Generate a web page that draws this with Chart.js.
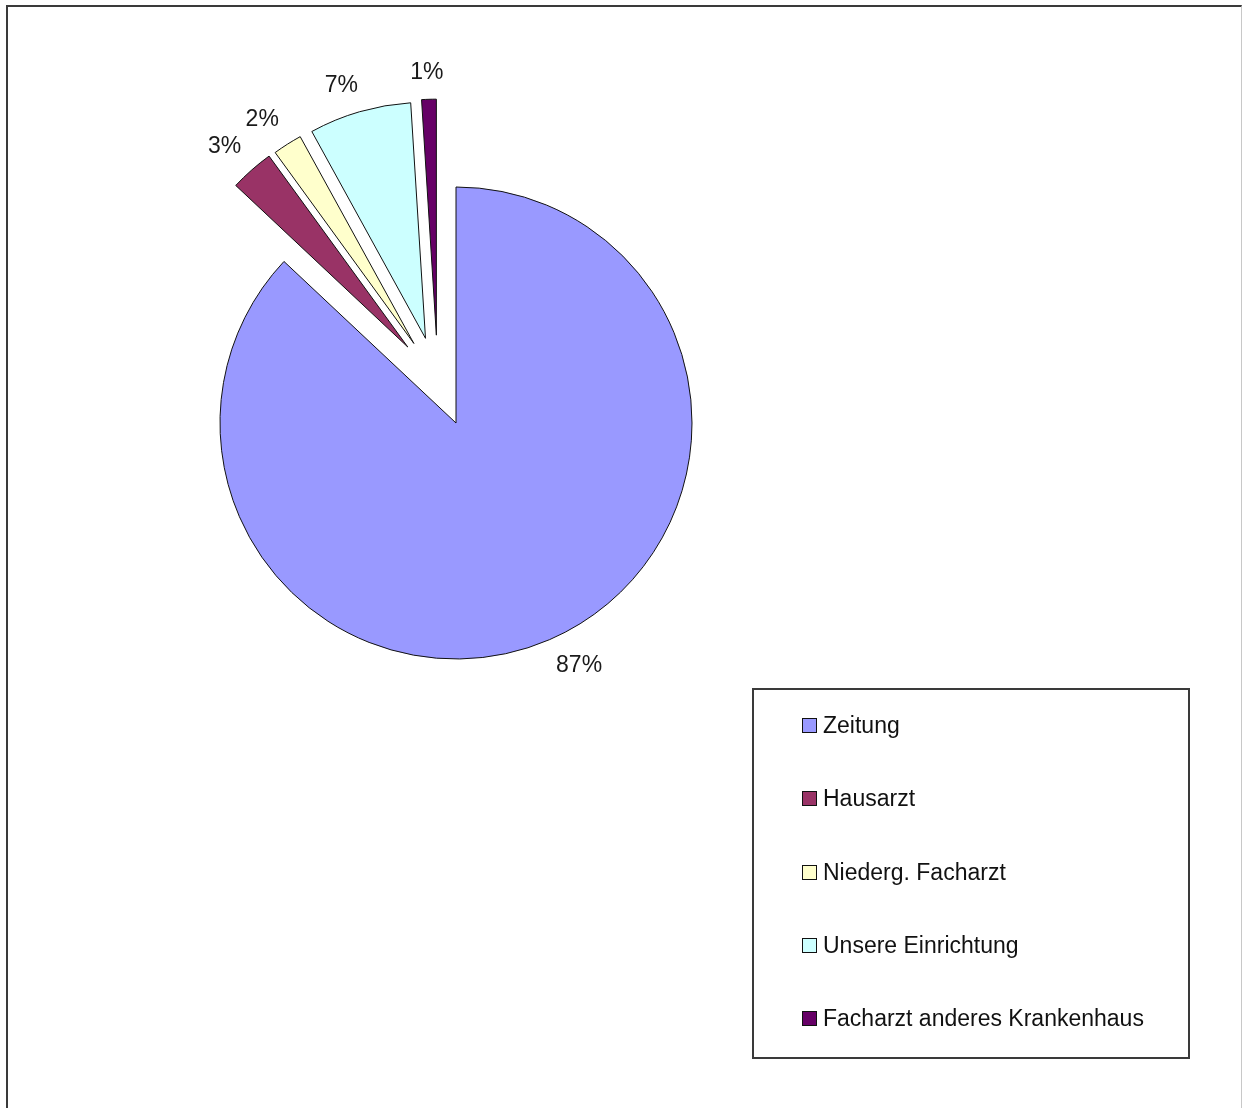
<!DOCTYPE html>
<html>
<head>
<meta charset="utf-8">
<script src="https://cdn.jsdelivr.net/npm/chart.js@4/dist/chart.umd.min.js"></script>
<style>
  html, body { margin: 0; padding: 0; background: #fff; overflow: hidden; }
  #wrap { position: relative; width: 1242px; height: 1108px; overflow: hidden; }
  #frame { position: absolute; left: 6px; top: 5px; width: 1233px; height: 1200px;
           border-top: 2px solid #3a3a3a; border-left: 2px solid #3a3a3a; border-right: 1px solid #c8c8c8; }
  #c { position: absolute; left: 0; top: 0; }
  #legend { position: absolute; left: 752px; top: 688px; width: 438px; height: 371px; box-sizing: border-box;
            border: 2px solid #3a3a3a; background: transparent; }
  .li { position: absolute; left: 48px; height: 23px; display: flex; align-items: center; white-space: nowrap;
        font: 23px "Liberation Sans", Arial, sans-serif; color: #111; }
  .sw { width: 15px; height: 15px; box-sizing: border-box; border: 1px solid #111; margin-right: 6px; }
</style>
</head>
<body>
<div id="wrap">
  <div id="frame"></div>
  <canvas id="c" width="1242" height="1108"></canvas>
  <div id="legend"></div>
</div>
<script>
// ---- data ----
const categories = ['Zeitung', 'Hausarzt', 'Niederg. Facharzt', 'Unsere Einrichtung', 'Facharzt anderes Krankenhaus'];
const shares = [87, 3, 2, 7, 1];
const shareLabels = ['87%', '3%', '2%', '7%', '1%'];

// ---- style ----
const sliceColors = ['#9999FF', '#993366', '#FFFFCC', '#CCFFFF', '#660066'];
const exploded = [false, true, true, true, true];
const EXPLODE = 90;
const LABEL_GAP = 16;
const FONT = '23px "Liberation Sans", Arial, sans-serif';

const explodePlugin = {
  id: 'explode',
  afterDatasetUpdate(chart, args) {
    const arcs = chart.getDatasetMeta(args.index).data;
    const idx = arcs.map((a, i) => i).filter(i => exploded[i]);
    if (!idx.length) return;
    const groupMid = (arcs[idx[0]].startAngle + arcs[idx[idx.length - 1]].endAngle) / 2;
    const ca = chart.chartArea;
    const cx = (ca.left + ca.right) / 2, cy = (ca.top + ca.bottom) / 2;
    idx.forEach(i => {
      const a = arcs[i];
      const m = ((a.startAngle + a.endAngle) / 2 + groupMid) / 2;
      a.x = cx + Math.cos(m) * EXPLODE;
      a.y = cy + Math.sin(m) * EXPLODE;
    });
  }
};

const clamp1 = v => Math.max(-1, Math.min(1, v));

const labelPlugin = {
  id: 'sliceLabels',
  afterDatasetsDraw(chart) {
    const ctx = chart.ctx;
    const arcs = chart.getDatasetMeta(0).data;
    ctx.save();
    ctx.font = FONT;
    ctx.fillStyle = '#1a1a1a';
    ctx.textAlign = 'center';
    ctx.textBaseline = 'middle';
    arcs.forEach((a, i) => {
      const m = (a.startAngle + a.endAngle) / 2;
      const c = Math.cos(m), s = Math.sin(m);
      const txt = shareLabels[i];
      const w = ctx.measureText(txt).width, h = 22;
      const r = a.outerRadius + LABEL_GAP;
      ctx.fillText(txt, a.x + c * r + clamp1(3 * c) * w / 2, a.y + s * r + clamp1(3 * s) * h / 2);
    });
    ctx.restore();
  }
};

new Chart(document.getElementById('c'), {
  type: 'pie',
  data: {
    labels: categories,
    datasets: [{
      data: shares,
      backgroundColor: sliceColors,
      borderColor: '#111',
      borderWidth: 1,
      clip: false
    }]
  },
  options: {
    responsive: false,
    animation: false,
    events: [],
    devicePixelRatio: 1,
    radius: 236,
    layout: { padding: { left: 0, top: 0, right: 330, bottom: 262 } },
    plugins: { legend: { display: false }, tooltip: { enabled: false } }
  },
  plugins: [explodePlugin, labelPlugin]
});

// HTML legend built from the same arrays
const leg = document.getElementById('legend');
categories.forEach((name, i) => {
  const item = document.createElement('div');
  item.className = 'li';
  item.style.top = (24 + i * 73.3) + 'px';
  const sw = document.createElement('span');
  sw.className = 'sw';
  sw.style.background = sliceColors[i];
  const t = document.createElement('span');
  t.textContent = name;
  item.appendChild(sw);
  item.appendChild(t);
  leg.appendChild(item);
});
</script>
</body>
</html>
